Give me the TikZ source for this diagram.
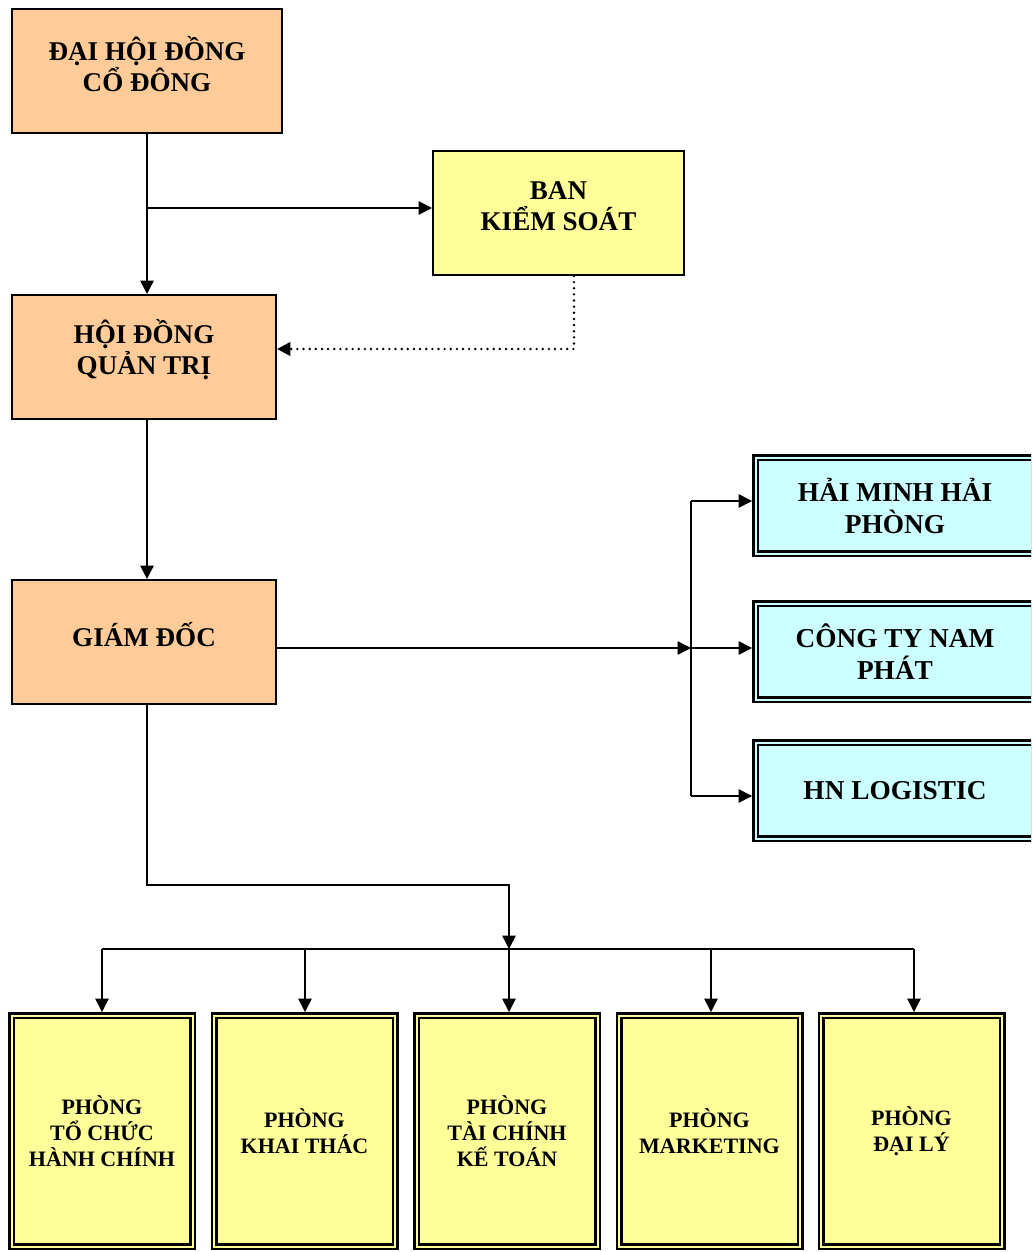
\documentclass[tikz,border=0pt]{standalone}
\usepackage{fontspec}
\setmainfont{Liberation Serif}
\usetikzlibrary{arrows.meta}
\definecolor{peach}{HTML}{FFCC99}
\definecolor{lyellow}{HTML}{FFFF99}
\definecolor{lcyan}{HTML}{CCFFFF}
\tikzset{
  x=0.75pt, y=-0.75pt,
  wd/.style={minimum width=#1*0.75pt},
  ht/.style={minimum height=#1*0.75pt},
  sbox/.style={draw=black, line width=1.5pt, inner sep=0pt},
  stext/.style={align=center, inner sep=0pt, yshift=5.2pt,
    font=\bfseries\fontsize{20.3}{23.25}\selectfont},
  dbox/.style={draw=black, line width=1.875pt, double distance=1.5pt, outer sep=2.6pt,
    inner sep=0pt, align=center},
  rbox/.style={dbox, fill=lcyan, double=lcyan, wd=279, ht=96,
    font=\bfseries\fontsize{20.5}{24}\selectfont},
  bbox/.style={dbox, fill=lyellow, double=lyellow, wd=181, ht=231,
    font=\bfseries\fontsize{16.5}{19.5}\selectfont},
  conn/.style={line width=1.1pt, draw=black},
  arr/.style={conn, -{Triangle[length=10pt,width=10pt]}},
  dotarr/.style={arr, line width=2pt, line cap=round, dash pattern=on 0pt off 4.6pt},
}
\begin{document}
\begin{tikzpicture}
\useasboundingbox (0,0) rectangle (1031,1252);
\clip (0,0) rectangle (1031,1252);

\node[sbox, fill=peach, wd=270, ht=124,
  label={[stext]center:{ĐẠI HỘI ĐỒNG\\CỔ ĐÔNG}}] (dh) at (147,71) {};
\node[sbox, fill=lyellow, wd=251, ht=124,
  label={[stext]center:{BAN\\KIỂM SOÁT}}] (bks) at (558.5,213) {};
\node[sbox, fill=peach, wd=264, ht=124,
  label={[stext]center:{HỘI ĐỒNG\\QUẢN TRỊ}}] (hd) at (144,357) {};
\node[sbox, fill=peach, wd=264, ht=124,
  label={[stext]center:{GIÁM ĐỐC}}] (gd) at (144,642) {};

\node[rbox] (c1) at (895,505.5) {HẢI MINH HẢI\\PHÒNG};
\node[rbox] (c2) at (895,651.5) {CÔNG TY NAM\\PHÁT};
\node[rbox] (c3) at (895,790.5) {HN LOGISTIC};

\node[bbox] (b1) at (102,1131) {PHÒNG\\TỔ CHỨC\\HÀNH CHÍNH};
\node[bbox] (b2) at (304.5,1131) {PHÒNG\\KHAI THÁC};
\node[bbox] (b3) at (507,1131) {PHÒNG\\TÀI CHÍNH\\KẾ TOÁN};
\node[bbox] (b4) at (709.5,1131) {PHÒNG\\MARKETING};
\node[bbox] (b5) at (911.5,1131) {PHÒNG\\ĐẠI LÝ};

\coordinate (j) at (691,648);
\coordinate (bus) at (509,949);

% top
\draw[arr] (dh.south) -- (dh.south |- hd.north);
\draw[arr] (147,208) -- (bks.west |- 0,208);
\draw[dotarr] (bks.south -| 574,0) |- (hd.east |- 0,349);
\draw[arr] (hd.south -| 147,0) -- (gd.north -| 147,0);

% right branch
\draw[arr] (gd.east |- j) -- (j);
\draw[conn] (j |- 0,501) -- (j |- 0,796);
\draw[arr] (j |- 0,501) -- (c1.west |- 0,501);
\draw[arr] (j) -- (c2.west |- j);
\draw[arr] (j |- 0,796) -- (c3.west |- 0,796);

% bottom branch
\draw[arr] (gd.south -| 147,0) |- (509,885) -- (bus);
\draw[conn] (b1.north |- bus) -- (914,949);
\draw[arr] (b1.north |- bus) -- (b1.north);
\draw[arr] (305,949) -- (b2.north -| 305,0);
\draw[arr] (bus) -- (b3.north -| bus);
\draw[arr] (711,949) -- (b4.north -| 711,0);
\draw[arr] (914,949) -- (b5.north -| 914,0);
\end{tikzpicture}
\end{document}
